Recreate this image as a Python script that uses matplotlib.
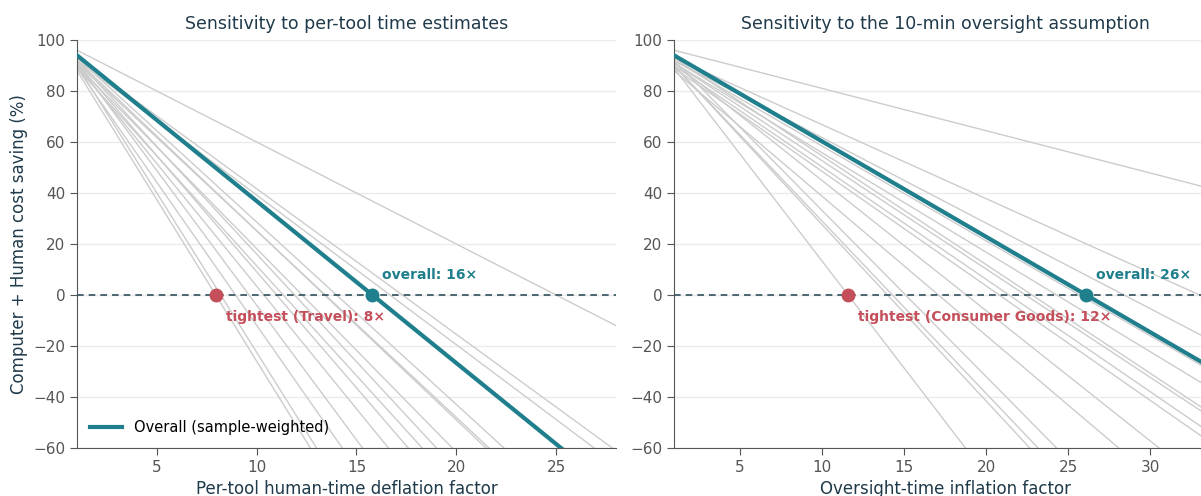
import numpy as np
import matplotlib
matplotlib.use("Agg")
import matplotlib.pyplot as plt

# baseline saving (%) at factor 1, one per sector
base_saving = [88, 90, 89, 91, 90, 91, 89, 92, 90, 92, 91, 93, 92, 93, 96]
# break-even factors per sector
be_deflation = [7.95, 8.2, 8.94, 9.62, 10.36, 11.0, 11.33, 11.9, 12.28, 13.4, 13.44, 14.0, 16.68, 17.3, 25.0]
be_oversight = [17.1, 21.4, 11.6, 22.4, 14.0, 24.3, 20.8, 28.4, 14.3, 25.7, 18.8, 33.0, 15.1, 22.8, 58.8]

overall_base = 94
overall_be = [15.8, 26.1]
overall_lbl = [16, 26]
tight_be = [7.95, 11.6]
tight_name = ["Travel", "Consumer Goods"]
tight_lbl = [8, 12]

titles = ["Sensitivity to per-tool time estimates", "Sensitivity to the 10-min oversight assumption"]
xlabels = ["Per-tool human-time deflation factor", "Oversight-time inflation factor"]
xlims = [(1, 28), (1, 34)]

TEAL = "#1f7f8c"
RED = "#c44e5a"
DARK = "#1f3a4a"
GREY = "#555555"

def saving(x, y0, x0):
    return y0 * (x0 - x) / (x0 - 1)

fig = plt.figure(figsize=(12.01, 4.96), dpi=100)
ax1 = fig.add_axes([77/1201, 48/496, 539/1201, 408/496])
ax2 = fig.add_axes([674/1201, 48/496, 542/1201, 408/496])

for i, (ax, bes) in enumerate(zip([ax1, ax2], [be_deflation, be_oversight])):
    xs = np.array(xlims[i], dtype=float)
    for y0, x0 in zip(base_saving, bes):
        ax.plot(xs, saving(xs, y0, x0), color="#cccccc", lw=1, zorder=2)
    ax.plot(xs, saving(xs, overall_base, overall_be[i]), color=TEAL, lw=3,
            zorder=4, label="Overall (sample-weighted)")
    ax.axhline(0, color="#2f4f5a", lw=1.2, ls=(0, (4, 3)), zorder=3)
    ax.plot([overall_be[i]], [0], "o", color=TEAL, ms=9, zorder=5)
    ax.plot([tight_be[i]], [0], "o", color=RED, ms=9, zorder=5)
    x_off = (xlims[i][1] - xlims[i][0]) * 0.0185
    ax.text(overall_be[i] + x_off, 8, f"overall: {overall_lbl[i]}\u00d7", color=TEAL,
            fontsize=10, fontweight="bold", va="center", ha="left")
    ax.text(tight_be[i] + x_off, -8.5, f"tightest ({tight_name[i]}): {tight_lbl[i]}\u00d7",
            color=RED, fontsize=10, fontweight="bold", va="center", ha="left")

    ax.set_xlim(*xlims[i])
    ax.set_ylim(-60, 100)
    ax.set_yticks(range(-60, 101, 20))
    ax.set_xticks(range(5, int(xlims[i][1]) + 1, 5))
    ax.grid(axis="y", color="#ebebeb", lw=1)
    ax.set_axisbelow(True)
    for s in ["top", "right"]:
        ax.spines[s].set_visible(False)
    for s in ["left", "bottom"]:
        ax.spines[s].set_color(GREY)
    ax.tick_params(colors=GREY, labelsize=11, length=5)
    ax.set_title(titles[i], color=DARK, fontsize=12.5, pad=8)
    ax.set_xlabel(xlabels[i], color=DARK, fontsize=12, labelpad=4)

ax1.set_ylabel("Computer + Human cost saving (%)", color=DARK, fontsize=12)
ax1.legend(loc="lower left", frameon=False, fontsize=10.5, handlelength=2.2)

fig.savefig("out.png", dpi=100)
